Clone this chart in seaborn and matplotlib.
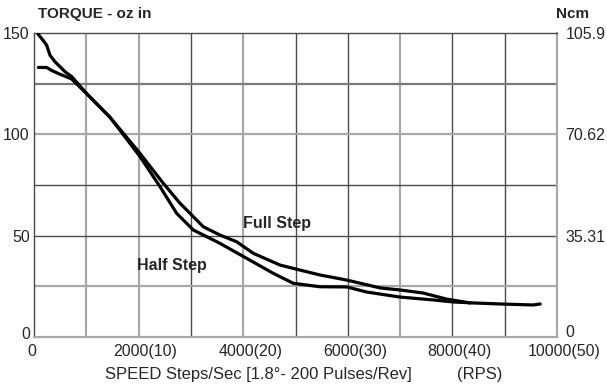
import matplotlib
matplotlib.use("Agg")
import matplotlib.pyplot as plt
import matplotlib.transforms as mtransforms
import seaborn as sns
import pandas as pd

# ---- data ----
full_x = [76, 170, 242, 306, 402, 593, 720, 1010, 1450, 1644, 2027, 2473, 2792,
          3237, 3556, 3875, 4193, 4704, 5090, 5468, 5980, 6620, 7000, 7440, 7890, 8340]
full_y = [149.5, 146.5, 144, 139, 135.8, 130.9, 128.5, 120, 108.5, 102.5, 90.6, 75.8, 66,
          54.4, 50.3, 47, 41.3, 35.5, 33, 30.6, 28.1, 24.2, 23.2, 21.7, 18.7, 16.8]
half_x = [83, 242, 338, 466, 720, 1010, 1450, 1644, 2027, 2409, 2728, 3046, 3556,
          4067, 4576, 4958, 5468, 5980, 6360, 7000, 7630, 8010, 8400, 8910, 9540, 9680]
half_y = [133, 133, 131.5, 130, 127.3, 120, 108.5, 102, 89, 74.2, 61, 52.8, 46.2,
          38.8, 31.4, 26.5, 24.8, 24.7, 22.2, 19.7, 18.3, 17.3, 16.8, 16.3, 15.8, 16.3]

x_ticks = [0, 2000, 4000, 6000, 8000, 10000]
x_tick_labels = ["0", "2000(10)", "4000(20)", "6000(30)", "8000(40)", "10000(50)"]
y_ticks = [0, 50, 100, 150]
y_tick_labels = ["0", "50", "100", "150"]
ncm_tick_labels = ["0", "35.31", "70.62", "105.9"]

full_df = pd.DataFrame({"speed": full_x, "torque": full_y})
half_df = pd.DataFrame({"speed": half_x, "torque": half_y})

sns.set_style("white")
plt.rcParams["font.family"] = ["Liberation Sans", "DejaVu Sans"]

fig = plt.figure(figsize=(6.07, 3.89), dpi=100)
ax = fig.add_axes([34 / 607, 1 - 337 / 389, (557 - 34) / 607, (337 - 33) / 389])

# grid lines (mixed dark-thin / gray-thick like the reference raster)
dark, gray = "#4a4a4a", "#a8a8a8"
vgrid = {1000: gray, 2000: gray, 3000: dark, 4000: gray, 5000: dark,
         6000: dark, 7000: gray, 8000: dark, 9000: dark}
for xv, c in vgrid.items():
    ax.axvline(xv, color=c, lw=1.0 if c == dark else 1.6, zorder=1)
hgrid = {25: gray, 50: dark, 75: dark, 100: gray, 125: "#7a7a7a"}
for yv, c in hgrid.items():
    ax.axhline(yv, color=c, lw=1.0 if c == dark else 1.6, zorder=1)

sns.lineplot(data=full_df, x="speed", y="torque", sort=False, estimator=None,
             color="black", lw=2.3, ax=ax, zorder=3)
sns.lineplot(data=half_df, x="speed", y="torque", sort=False, estimator=None,
             color="black", lw=2.3, ax=ax, zorder=3)

ax.set_xlim(0, 10000)
ax.set_ylim(0, 150)
for side, c, w in [("left", dark, 1.0), ("top", dark, 1.0),
                   ("right", gray, 1.6), ("bottom", gray, 1.6)]:
    ax.spines[side].set_visible(True)
    ax.spines[side].set_color(c)
    ax.spines[side].set_linewidth(w)

fs = 11.5
ax.set_xticks(x_ticks)
ax.set_xticklabels(x_tick_labels, fontsize=fs)
ax.set_yticks(y_ticks)
ax.set_yticklabels(y_tick_labels, fontsize=fs)
ax.tick_params(axis="both", length=0, pad=3)
ax.tick_params(axis="x", pad=5)
ax.set_xlabel("")
ax.set_ylabel("")
off = mtransforms.ScaledTranslation(7 / 100, 0, fig.dpi_scale_trans)
off0 = mtransforms.ScaledTranslation(-2 / 100, 0, fig.dpi_scale_trans)
for i, lab in enumerate(ax.get_xticklabels()):
    lab.set_transform(lab.get_transform() + (off0 if i == 0 else off))
up = mtransforms.ScaledTranslation(0, 4 / 100, fig.dpi_scale_trans)
ax.get_yticklabels()[0].set_transform(ax.get_yticklabels()[0].get_transform() + up)

ax2 = ax.twinx()
ax2.set_ylim(0, 150)
ax2.set_yticks(y_ticks)
ax2.set_yticklabels(ncm_tick_labels, fontsize=fs)
ax2.tick_params(axis="y", length=0, pad=6)
for s in ax2.spines.values():
    s.set_visible(False)
r0 = ax2.get_yticklabels()[0]
r0.set_transform(r0.get_transform() + mtransforms.ScaledTranslation(0, 6 / 100, fig.dpi_scale_trans))

ax.text(4000, 56, "Full Step", fontsize=fs, fontweight="bold", ha="left", va="center", zorder=4)
ax.text(1970, 35.5, "Half Step", fontsize=fs, fontweight="bold", ha="left", va="center", zorder=4)

fig.text(38 / 607, 1 - 14 / 389, "TORQUE - oz in", fontsize=11, fontweight="bold",
         ha="left", va="center")
fig.text(556 / 607, 1 - 14 / 389, "Ncm", fontsize=11, fontweight="bold",
         ha="left", va="center")
fig.text(105 / 607, 1 - 374 / 389, "SPEED Steps/Sec [1.8\u00b0- 200 Pulses/Rev]",
         fontsize=12, ha="left", va="center")
fig.text(480 / 607, 1 - 374 / 389, "(RPS)", fontsize=12, ha="center", va="center")

fig.savefig("out.png", dpi=100)
